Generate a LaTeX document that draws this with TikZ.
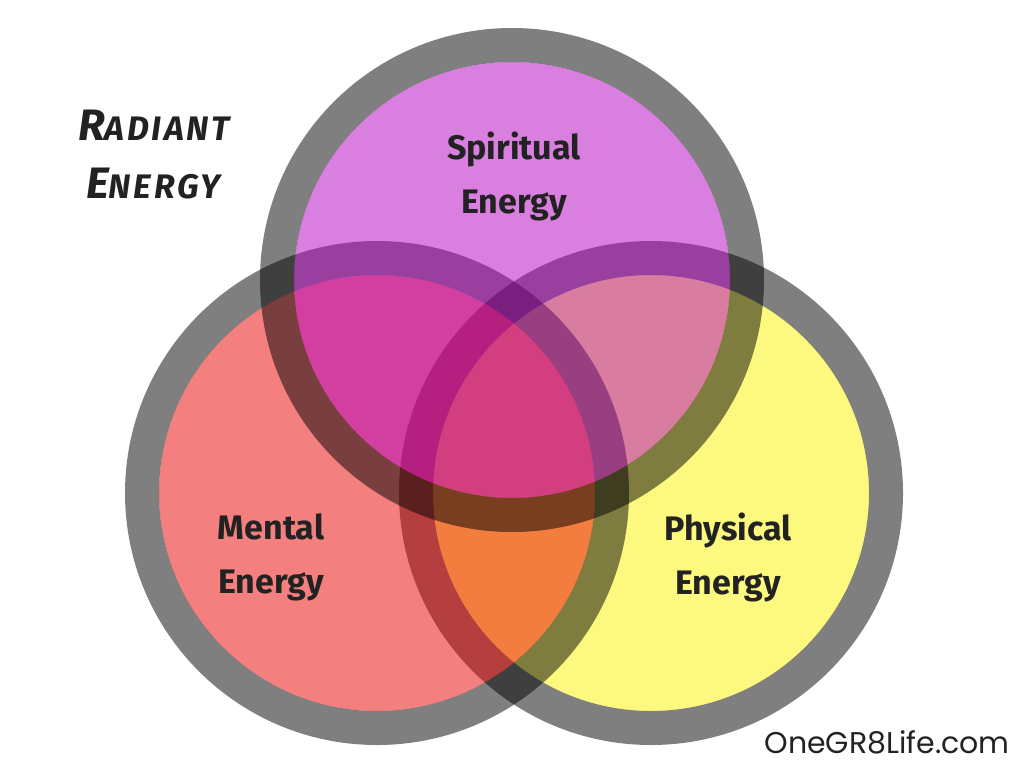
\documentclass[tikz,border=0pt]{standalone}
\usepackage{fontspec}
\setmainfont{Fira Sans}
\newfontfamily\labelfont{Fira Sans}
\newfontfamily\brushfont{Fira Sans}[LetterSpace=8]
\newfontfamily\webfont{Poppins}
\definecolor{cpurple}{RGB}{180,1,193}
\definecolor{cred}{RGB}{235,0,0}
\definecolor{cyellow}{RGB}{253,245,1}
\definecolor{txt}{RGB}{34,34,34}
\tikzset{
  vfill/.style={fill opacity=0.5},
  vring/.style={draw=black, draw opacity=0.5, line width=34pt},
  lbl/.style={font=\labelfont\fontsize{34}{54}\selectfont\bfseries, text=txt, align=center, inner sep=0pt},
}
\begin{document}
\begin{tikzpicture}[x=1pt,y=-1pt]
\useasboundingbox (0,0) rectangle (1024,768);
\fill[white] (0,0) rectangle (1024,768);
\coordinate (cR) at (651,493);
\coordinate (cL) at (377,493);
\coordinate (cT) at (512,280);
% right (physical)
\fill[cyellow, vfill] (cR) circle[radius=218];
\draw[vring] (cR) circle[radius=235];
% left (mental)
\fill[cred, vfill] (cL) circle[radius=218];
\draw[vring] (cL) circle[radius=235];
% top (spiritual)
\fill[cpurple, vfill] (cT) circle[radius=218];
\draw[vring] (cT) circle[radius=235];
% labels
\node[lbl] (sp) at (514,176) {Spiritual\\Energy};
\node[lbl] (me) at (271,557) {Mental\\Energy};
\node[lbl] (ph) at (728,557) {Physical\\Energy};
\node[font=\brushfont\fontsize{34}{58}\selectfont\bfseries\itshape, text=txt, align=left, inner sep=0pt, anchor=base west] (ra) at (78,198)
  {{\fontsize{44}{58}\selectfont R}ADIANT\\\hspace*{8pt}{\fontsize{44}{58}\selectfont E}NERGY};
\node[font=\webfont\fontsize{30}{34}\selectfont, text=txt, inner sep=0pt, anchor=base east] (web) at (1010,753) {OneGR8Life.com};
\end{tikzpicture}
\end{document}
